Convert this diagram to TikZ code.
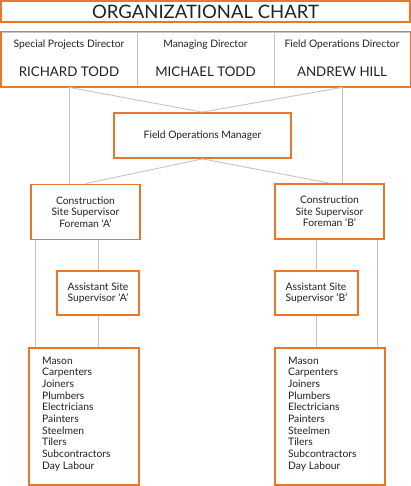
\documentclass[tikz,border=0pt]{standalone}
\usepackage{fontspec}
\setmainfont{Lato}
\definecolor{orng}{HTML}{E8772E}
\definecolor{ln}{HTML}{C4C4C4}
\definecolor{txt}{HTML}{222222}
\begin{document}
\begin{tikzpicture}[x=1pt,y=-1pt,
  box/.style={draw=orng, line width=1.8pt, fill=white, inner sep=0pt, text=txt,
    font=\fontsize{10.3}{11.5}\selectfont, align=center},
  cell/.style={draw=ln, line width=0.8pt, inner sep=0pt, minimum height=55pt},
  lbl/.style={inner sep=0pt, text=txt},
  role/.style={lbl, font=\fontsize{10.3}{11}\selectfont},
  person/.style={lbl, font=\fontsize{13.3}{15}\selectfont},
  trades/.style={lbl, anchor=north west, align=left, font=\fontsize{10.3}{11.7}\selectfont},
  conn/.style={draw=ln, line width=0.9pt}]
\useasboundingbox (0,0) rectangle (411,486);
% title
\node[box, minimum width=409pt, minimum height=21pt, font=\fontsize{18.5}{20}\selectfont] (title) at (205.5,11.5) {ORGANIZATIONAL CHART};
% directors
\node[cell, minimum width=136pt] (srd) at (69,59.5) {};
\node[cell, minimum width=137pt] (md) at (205.5,59.5) {};
\node[cell, minimum width=136pt] (fod) at (342,59.5) {};
\draw[draw=orng, line width=1.8pt] (srd.north west) rectangle (fod.south east);
\node[role] (srdr) at (69,45) {Special Projects Director};
\node[role] (mdr) at (205.5,45) {Managing Director};
\node[role] (fodr) at (342,45) {Field Operations Director};
\node[person] (srdn) at (69,71.5) {RICHARD TODD};
\node[person] (mdn) at (205.5,71.5) {MICHAEL TODD};
\node[person] (fodn) at (342,71.5) {ANDREW HILL};
% boxes
\node[box, minimum width=177pt, minimum height=45pt] (fom) at (202.5,135.5) {Field Operations Manager};
\node[box, minimum width=109pt, minimum height=55pt] (csa) at (85.5,212) {Construction\\Site Supervisor\\Foreman ‘A’};
\node[box, minimum width=109pt, minimum height=55pt] (csb) at (329.5,211.5) {Construction\\Site Supervisor\\Foreman ‘B’};
\node[box, minimum width=82pt, minimum height=44pt] (asa) at (98,293) {Assistant Site\\Supervisor ‘A’};
\node[box, minimum width=83pt, minimum height=44pt, align=left] (asb) at (316.5,293) {Assistant Site\\Supervisor ‘B’};
\node[box, minimum width=110pt, minimum height=137pt] (wka) at (84,416.5) {};
\node[box, minimum width=110pt, minimum height=137pt] (wkb) at (330,416.5) {};
\node[trades] (lista) at (42,356.5) {Mason\\Carpenters\\Joiners\\Plumbers\\Electricians\\Painters\\Steelmen\\Tilers\\Subcontractors\\Day Labour};
\node[trades] (listb) at (288,356.5) {Mason\\Carpenters\\Joiners\\Plumbers\\Electricians\\Painters\\Steelmen\\Tilers\\Subcontractors\\Day Labour};
% connectors
\draw[conn] (srd.south) -- (srd.south |- csa.north);
\draw[conn] (fod.south) -- (fod.south |- csb.north);
\draw[conn] (srd.south) -- (fom.north);
\draw[conn] (fod.south) -- (fom.north);
\draw[conn] (fom.south) -- (csa.north);
\draw[conn] (fom.south) -- (csb.north);
\draw[conn] ([xshift=5pt]csa.south west) -- ([xshift=5pt]csa.south west |- wka.north);
\draw[conn] (asa.north |- csa.south) -- (asa.north);
\draw[conn] (asa.south) -- (asa.south |- wka.north);
\draw[conn] ([xshift=-7pt]csb.south east) -- ([xshift=-7pt]csb.south east |- wkb.north);
\draw[conn] (asb.north |- csb.south) -- (asb.north);
\draw[conn] (asb.south) -- (asb.south |- wkb.north);
\end{tikzpicture}
\end{document}
